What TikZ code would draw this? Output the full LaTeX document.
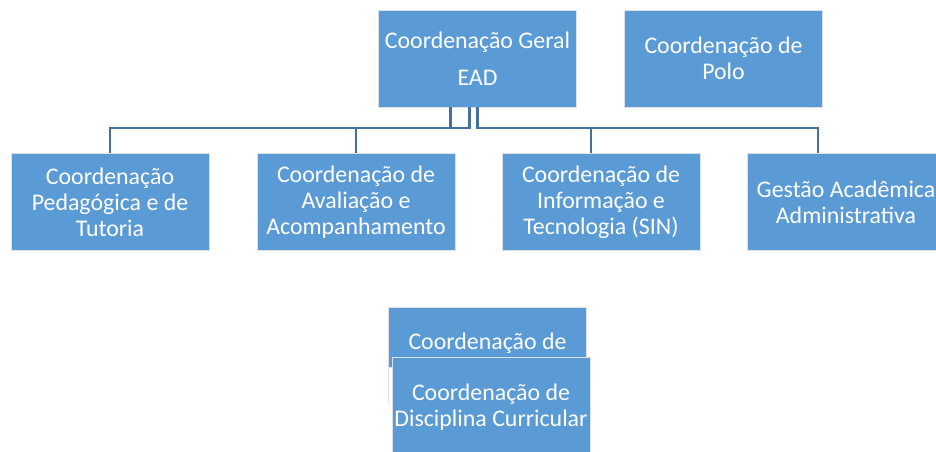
\documentclass[tikz,border=0pt]{standalone}
\usepackage{fontspec}
\setmainfont{Carlito}
\definecolor{boxblue}{RGB}{91,155,213}
\definecolor{lineblue}{RGB}{65,113,156}
\definecolor{edgegray}{RGB}{220,225,232}
\begin{document}
\begin{tikzpicture}[x=0.75pt,y=-0.75pt,
  orgbox/.style={fill=boxblue,draw=edgegray,line width=0.4pt,minimum width=148.5pt,minimum height=72.5pt,
    text=white,align=center,inner sep=0pt,font=\fontsize{17.9}{19.6}\selectfont},
  conn/.style={draw=lineblue,line width=1.6pt}]
\useasboundingbox (0,0) rectangle (936,452);
\begin{scope}
\clip (0,0) rectangle (936,452);
% top row
\node[orgbox] (geral) at (477.5,58.5) {Coordenação Geral\\[8.1pt]EAD};
\node[orgbox] (polo) at (723.5,58.5) {Coordenação de\\Polo};
% second row
\node[orgbox] (ped) at (110,202) {Coordenação\\Pedagógica e de\\Tutoria};
\node[orgbox] (aval) at (356,202) {Coordenação de\\Avaliação e\\Acompanhamento};
\node[orgbox] (info) at (601,202) {Coordenação de\\Informação e\\Tecnologia (SIN)};
\node[orgbox] (gest) at (846,202) {Gestão Acadêmica\\Administrativa};
% bottom
\node[orgbox,minimum height=45pt,anchor=north,text depth=0pt] (back) at (487.5,307) {};
\node[text=white,font=\fontsize{17.9}{19.6}\selectfont,anchor=base] (backtxt) at (487.5,350) {Coordenação de};
\draw[edgegray,line width=0.6pt] (388,352) -- (388,403);
\node[orgbox,anchor=north,minimum height=80pt] (disc) at (491,357) {};
\node[text=white,font=\fontsize{17.9}{19.6}\selectfont,align=center] (disctxt) at (491,407) {Coordenação de\\Disciplina Curricular};
\end{scope}
% connectors
\coordinate (busy) at (0,128);
\coordinate (s1) at ([xshift=-20.25pt]geral.south);
\coordinate (s2) at ([xshift=-6pt]geral.south);
\coordinate (s3) at ([xshift=0pt]geral.south);
\coordinate (d3) at ([xshift=-7.5pt]info.north);
\coordinate (d4) at ([xshift=-21pt]gest.north);
\draw[conn] (s2) -- (s2 |- busy) -| (ped.north);
\draw[conn] (aval.north) -- (aval.north |- busy);
\draw[conn] (s1) -- (s1 |- busy) -- (s2 |- busy);
\draw[conn] (s3) -- (s3 |- busy) -| (d4);
\draw[conn] (d3) -- (d3 |- busy);
\end{tikzpicture}
\end{document}
